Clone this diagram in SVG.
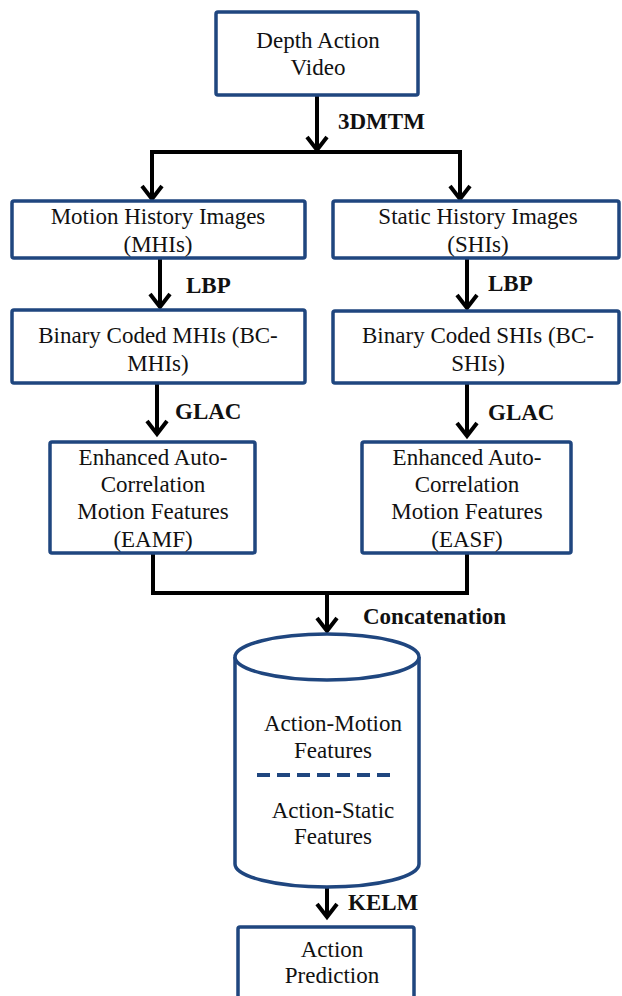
<svg xmlns="http://www.w3.org/2000/svg" width="622" height="996" viewBox="0 0 622 996">
<style>
.box{fill:#fff;stroke:#1f467f;stroke-width:3.5}
.t{font-family:"Liberation Serif","Times New Roman",serif;font-size:23px;fill:#111;text-anchor:middle}
.lb{font-family:"Liberation Serif","Times New Roman",serif;font-size:23px;font-weight:bold;fill:#111}
.c{fill:none;stroke:#000;stroke-width:4}
</style>
<defs>
<marker id="ah" viewBox="-16 -12 20 24" refX="0" refY="0" markerWidth="20" markerHeight="24" orient="auto" markerUnits="userSpaceOnUse">
<path d="M-13,-10 L0,0 L-13,10" fill="none" stroke="#000" stroke-width="4" stroke-linejoin="miter"/>
</marker>
</defs>
<rect width="622" height="996" fill="#fff"/>
<g id="connectors">
<path class="c" d="M317,95 V150" marker-end="url(#ah)"/>
<path class="c" d="M150,152 H462"/>
<path class="c" d="M152,152 V199" marker-end="url(#ah)"/>
<path class="c" d="M460,152 V199" marker-end="url(#ah)"/>
<path class="c" d="M160,258 V307" marker-end="url(#ah)"/>
<path class="c" d="M467,258 V308" marker-end="url(#ah)"/>
<path class="c" d="M157,383 V434" marker-end="url(#ah)"/>
<path class="c" d="M467,383 V436" marker-end="url(#ah)"/>
<path class="c" d="M153,553 V593 H467 V553"/>
<path class="c" d="M327,593 V631" marker-end="url(#ah)"/>
<path class="c" d="M327,887 V917" marker-end="url(#ah)"/>
<text class="lb" x="338" y="129">3DMTM</text>
<text class="lb" x="186" y="293">LBP</text>
<text class="lb" x="488" y="291">LBP</text>
<text class="lb" x="175" y="419">GLAC</text>
<text class="lb" x="488" y="420">GLAC</text>
<text class="lb" x="363" y="624">Concatenation</text>
<text class="lb" x="348" y="910">KELM</text>
</g>
<g id="depth">
<rect class="box" x="216" y="12" width="202" height="83" rx="2"/>
<text class="t" x="318" y="48">Depth Action</text>
<text class="t" x="318" y="75">Video</text>
</g>
<g id="mhi">
<rect class="box" x="12" y="201" width="293" height="57" rx="2"/>
<text class="t" x="158" y="224">Motion History Images</text>
<text class="t" x="158" y="252">(MHIs)</text>
</g>
<g id="shi">
<rect class="box" x="333" y="201" width="286" height="57" rx="2"/>
<text class="t" x="478" y="224">Static History Images</text>
<text class="t" x="478" y="252">(SHIs)</text>
</g>
<g id="bcmhi">
<rect class="box" x="12" y="310" width="293" height="73" rx="2"/>
<text class="t" x="158" y="343">Binary Coded MHIs (BC-</text>
<text class="t" x="158" y="371">MHIs)</text>
</g>
<g id="bcshi">
<rect class="box" x="333" y="311" width="286" height="72" rx="2"/>
<text class="t" x="478" y="343">Binary Coded SHIs (BC-</text>
<text class="t" x="478" y="371">SHIs)</text>
</g>
<g id="eamf">
<rect class="box" x="50" y="442" width="205" height="111" rx="2"/>
<text class="t" x="153" y="465">Enhanced Auto-</text>
<text class="t" x="153" y="492">Correlation</text>
<text class="t" x="153" y="519">Motion Features</text>
<text class="t" x="153" y="547">(EAMF)</text>
</g>
<g id="easf">
<rect class="box" x="362" y="442" width="209" height="111" rx="2"/>
<text class="t" x="467" y="465">Enhanced Auto-</text>
<text class="t" x="467" y="492">Correlation</text>
<text class="t" x="467" y="519">Motion Features</text>
<text class="t" x="467" y="547">(EASF)</text>
</g>
<g id="features">
<path d="M235,657 V864 A92,23 0 0 0 419,864 V657" fill="#fff" stroke="#1f467f" stroke-width="3.5"/>
<ellipse cx="327" cy="657" rx="92" ry="23" fill="#fff" stroke="#1f467f" stroke-width="3.5"/>
<text class="t" x="333" y="731">Action-Motion</text>
<text class="t" x="333" y="758">Features</text>
<line x1="257" y1="775" x2="397" y2="775" stroke="#1f467f" stroke-width="4" stroke-dasharray="13,7"/>
<text class="t" x="333" y="818">Action-Static</text>
<text class="t" x="333" y="844">Features</text>
</g>
<g id="prediction">
<rect class="box" x="238" y="927" width="176" height="80" rx="2"/>
<text class="t" x="332" y="957">Action</text>
<text class="t" x="332" y="983">Prediction</text>
</g>
</svg>
